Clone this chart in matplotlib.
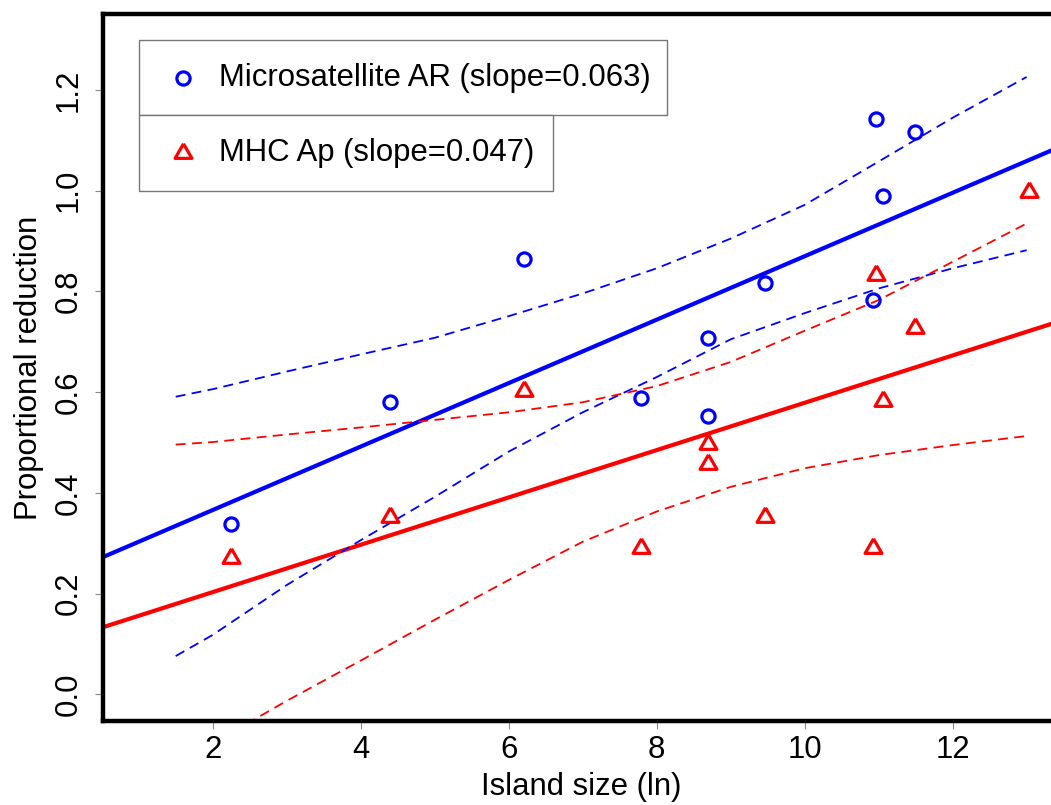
import matplotlib
matplotlib.use("Agg")
import matplotlib.pyplot as plt
from matplotlib.patches import Rectangle

plt.rcParams['font.family'] = ['Liberation Sans', 'DejaVu Sans']

# island size (ln) and proportional reduction per island
ms_x = [2.25, 4.39, 6.21, 7.79, 8.69, 8.70, 9.47, 10.97, 10.93, 11.06, 11.49]
ms_y = [0.338, 0.580, 0.864, 0.589, 0.707, 0.553, 0.817, 1.142, 0.783, 0.989, 1.116]

mhc_x = [2.25, 4.39, 6.21, 7.79, 8.69, 8.70, 9.47, 10.97, 10.93, 11.06, 11.49, 13.03]
mhc_y = [0.270, 0.352, 0.603, 0.290, 0.498, 0.457, 0.352, 0.832, 0.290, 0.582, 0.727, 0.997]

# regression lines
ms_slope, ms_icpt = 0.063, 0.240
mhc_slope, mhc_icpt = 0.047, 0.109

# 95% confidence bands of the fits
band_x = [1.5, 2, 3, 4, 5, 6, 7, 8, 9, 10, 11, 12, 13]
ms_upper = [0.591, 0.606, 0.641, 0.675, 0.708, 0.751, 0.796, 0.846, 0.905, 0.972, 1.058, 1.145, 1.226]
ms_lower = [0.076, 0.118, 0.217, 0.306, 0.392, 0.482, 0.560, 0.630, 0.705, 0.757, 0.806, 0.846, 0.882]
mhc_upper = [0.496, 0.501, 0.516, 0.530, 0.545, 0.560, 0.580, 0.612, 0.660, 0.722, 0.783, 0.859, 0.935]
mhc_lower = [-0.139, -0.097, -0.013, 0.067, 0.148, 0.227, 0.303, 0.363, 0.412, 0.449, 0.475, 0.495, 0.513]

BLUE = '#0000FF'
RED = '#FF0000'
FS = 22.4

# equilateral triangle centred on its centroid
tri = [(0, 1), (-0.866, -0.5), (0.866, -0.5), (0, 1)]

fig = plt.figure(figsize=(10.51, 8.05), dpi=100)
ax = fig.add_axes([0.098, 0.1043, 0.9096, 0.8783])

ax.axline((0, ms_icpt), slope=ms_slope, color=BLUE, lw=3.0, zorder=2)
ax.axline((0, mhc_icpt), slope=mhc_slope, color=RED, lw=3.0, zorder=2)

for ys, c in [(ms_upper, BLUE), (ms_lower, BLUE), (mhc_upper, RED), (mhc_lower, RED)]:
    ax.plot(band_x, ys, color=c, lw=1.3, dashes=(5.5, 3.5), zorder=2)

ax.plot(ms_x, ms_y, ls='none', marker='o', ms=9.5, mfc='none', mec=BLUE, mew=2.3, zorder=3)
ax.plot(mhc_x, mhc_y, ls='none', marker=tri, ms=14, mfc='none', mec=RED, mew=2.3, zorder=3)

ax.set_xlim(0.5176, 13.437)
ax.set_ylim(-0.053, 1.351)
ax.set_xticks([2, 4, 6, 8, 10, 12])
ax.set_yticks([0.0, 0.2, 0.4, 0.6, 0.8, 1.0, 1.2])
ax.set_yticklabels(['0.0', '0.2', '0.4', '0.6', '0.8', '1.0', '1.2'], rotation=90, va='center')
ax.tick_params(axis='both', length=6, width=0.8, color='#888888', labelsize=FS)
ax.tick_params(axis='x', pad=4)
ax.tick_params(axis='y', pad=8)

for s in ax.spines.values():
    s.set_linewidth(3.2)
    s.set_color('black')

ax.set_xlabel('Island size (ln)', fontsize=FS, labelpad=5)
ax.set_ylabel('Proportional reduction', fontsize=FS, labelpad=7)

# two stacked legend boxes
boxes = [
    (0.963, 0.857, 0.590, 'o', BLUE, 'Microsatellite AR (slope=0.063)'),
    (0.857, 0.750, 0.471, tri, RED, 'MHC Ap (slope=0.047)'),
]
for top, bot, right, mk, c, label in boxes:
    ax.add_patch(Rectangle((0.0377, bot), right - 0.0377, top - bot, transform=ax.transAxes,
                           fill=True, fc='white', ec='#777777', lw=1.0, zorder=4))
    yc = (top + bot) / 2
    ax.plot([0.0837], [yc], transform=ax.transAxes, ls='none', marker=mk,
            ms=9.5 if mk == 'o' else 14, mfc='none', mec=c, mew=2.3, zorder=5, clip_on=False)
    ax.text(0.1213, yc, label, transform=ax.transAxes, fontsize=FS, va='center',
            ha='left', zorder=5)

fig.savefig('out.png', dpi=100)
